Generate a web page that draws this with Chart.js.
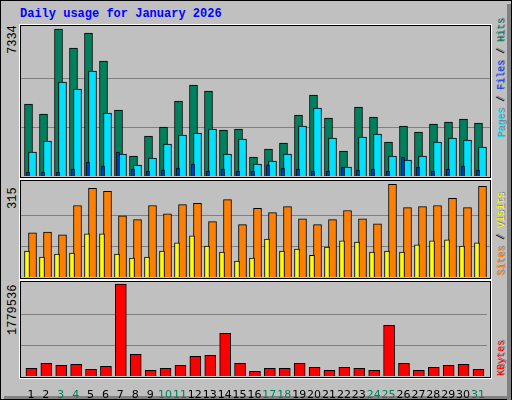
<!DOCTYPE html>
<html><head><meta charset="utf-8">
<script src="https://cdn.jsdelivr.net/npm/chart.js@4"></script>
<style>
body{margin:0;width:512px;height:400px;overflow:hidden;background:#fff}
#frame{position:absolute;left:0;top:0;width:510px;height:398px;background:#C0C0C0;border:1px solid #000}
#shadowR{position:absolute;left:507px;top:4px;width:4px;height:396px;background:#808080}
#shadowB{position:absolute;left:4px;top:396px;width:507px;height:3px;background:#808080}
.box{position:absolute;border:1px solid #000;outline:1px solid #fff}
canvas{position:absolute}
.t{position:absolute;font-family:"Liberation Mono",monospace;white-space:nowrap}
.rot{transform-origin:0 0;transform:rotate(-90deg);font-size:10px;text-shadow:1px 1px #808080}
</style></head><body>
<div id="frame"></div><div id="shadowR"></div><div id="shadowB"></div>
<div class="t" style="left:20px;top:7px;font-size:12px;font-weight:bold;color:#0000FF">Daily usage for January 2026</div>
<div class="box" style="left:20px;top:25px;width:469px;height:151px"></div>
<div class="box" style="left:20px;top:180px;width:469px;height:97px"></div>
<div class="box" style="left:20px;top:281px;width:469px;height:95px"></div>
<div class="t rot" style="left:6px;top:54px;color:#000;font-size:12px;text-shadow:none">7334</div>
<div class="t rot" style="left:6px;top:209px;color:#000;font-size:12px;text-shadow:none">315</div>
<div class="t rot" style="left:6px;top:335px;color:#000;font-size:12px;text-shadow:none">1779536</div>
<div class="t rot" style="left:496px;top:138px"><span style="color:#00E0FF">Pages</span><span style="color:#000"> / </span><span style="color:#0040FF">Files</span><span style="color:#000"> / </span><span style="color:#00805C">Hits</span></div>
<div class="t rot" style="left:496px;top:276px"><span style="color:#FF8000">Sites</span><span style="color:#000"> / </span><span style="color:#FFFF00">Visits</span></div>
<div class="t rot" style="left:496px;top:376px;color:#FF0000">KBytes</div>
<canvas id="c1" width="469" height="150" style="left:21px;top:26px"></canvas>
<canvas id="c2" width="469" height="96" style="left:21px;top:181px"></canvas>
<canvas id="c3" width="469" height="118" style="left:21px;top:282px"></canvas>
<script>
const days=[1,2,3,4,5,6,7,8,9,10,11,12,13,14,15,16,17,18,19,20,21,22,23,24,25,26,27,28,29,30,31];
const weekend=[3,4,10,11,17,18,24,25,31];
const hits=[3592,3093,7334,6386,7134,5737,3293,998,1996,2445,3742,4540,4241,2295,2345,948,1347,1646,3043,4041,2894,1247,3442,2944,1696,2494,2195,2594,2694,2844,2644];
const files=[1197,1746,4690,4340,5238,3143,1098,549,898,1596,2045,2145,2345,1098,1846,599,748,1098,2494,3393,1896,449,1946,2095,998,798,998,1696,1896,1796,1447];
const pages=[200,200,200,349,698,499,1197,349,250,299,399,599,250,349,250,250,549,399,349,250,250,449,299,349,250,948,449,250,349,499,299];
const visits=[150,153,143,243,301,291,208,195,243,215,246,250,188,263,178,233,219,239,198,178,195,226,198,181,315,236,239,243,267,236,308];
const sites=[88,68,78,81,147,147,78,64,68,88,116,140,105,85,54,64,129,88,95,74,102,123,119,85,88,85,109,123,126,105,116];
const kbytes=[148000,245000,206000,226000,129000,187000,1779536,419000,110000,148000,206000,380000,400000,825000,245000,90000,148000,148000,245000,168000,110000,168000,148000,110000,980000,245000,110000,168000,206000,226000,129000];
const maxHits=7334,maxVisits=315,maxKB=1779536;

const pts=(arr,off)=>arr.map((v,i)=>({x:days[i]+off,y:v}));
function ds(arr,off,color,w,order){return{data:pts(arr,off),backgroundColor:color,borderColor:'#000',borderWidth:1,barThickness:w,grouped:false,order:order,borderSkipped:'bottom'};}
function opts(ymax,gridMax,showX){
  return{responsive:false,animation:false,devicePixelRatio:1,
    layout:{padding:0},
    plugins:{legend:{display:false},tooltip:{enabled:false}},
    scales:{
      x:{type:'linear',min:0.333,max:31.6,offset:false,display:showX,
        grid:{display:false},border:{display:false},
        afterBuildTicks:s=>{s.ticks=days.map(v=>({value:v}));},
        afterFit:s=>{s.height=showX?24:0;},
        ticks:{autoSkip:false,maxRotation:0,padding:5,font:{family:'DejaVu Sans',size:11},
          color:c=>weekend.includes(c.tick.value)?'#00805C':'#000',
          callback:v=>String(v)}},
      y:{min:0,max:ymax,display:true,border:{display:false},
        grid:{color:'#808080',lineWidth:1,drawTicks:false},
        afterBuildTicks:s=>{s.ticks=[{value:gridMax/3},{value:2*gridMax/3}];},
        afterFit:s=>{s.width=0;},
        ticks:{display:false}}}};
}
new Chart(document.getElementById('c1'),{type:'bar',data:{datasets:[
  ds(pages,-0.2,'#0040FF',3,1),ds(files,0.1,'#00E0FF',8,2),ds(hits,-0.167,'#00805C',8,3)]},
  options:opts(maxHits*150/147,maxHits,false)});
new Chart(document.getElementById('c2'),{type:'bar',data:{datasets:[
  ds(sites,-0.267,'#FFFF00',5,1),ds(visits,0.1,'#FF8000',8,2)]},
  options:opts(maxVisits*96/92.7,maxVisits,false)});
new Chart(document.getElementById('c3'),{type:'bar',data:{datasets:[
  ds(kbytes,0.033,'#FF0000',11,1)]},
  options:opts(maxKB*94/92,maxKB,true)});
</script></body></html>
